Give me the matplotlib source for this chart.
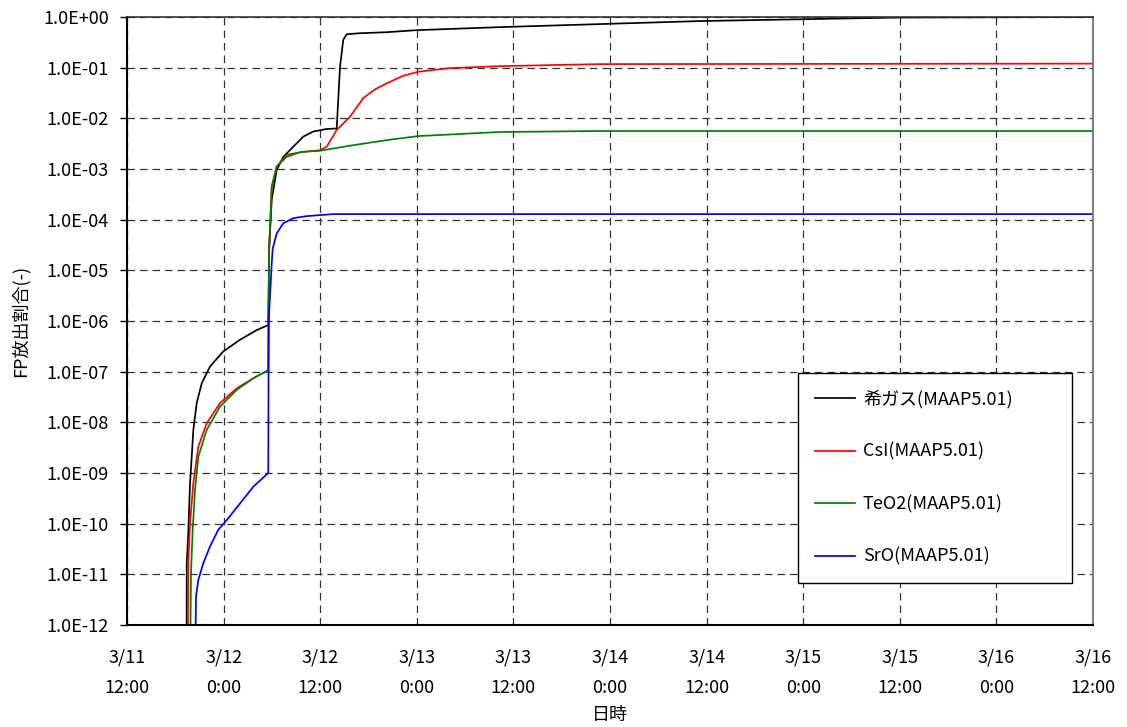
import numpy as np
import matplotlib
matplotlib.use('Agg')
import matplotlib.pyplot as plt

plt.rcParams['font.family'] = ['Noto Sans CJK JP', 'DejaVu Sans']

# hours since 3/11 12:00, log10 of release fraction
gas_h = [7.40, 7.42, 7.61, 7.83, 8.04, 8.24, 8.66, 9.28, 10.31, 11.96, 14.04, 16.11, 17.55,
         17.65, 17.98, 18.6, 19.42, 20.66, 21.9, 23.14, 24.81, 26.05, 26.46, 26.87, 27.29,
         28.94, 32.26, 35.99, 46.3, 71.2, 96.0, 120.0]
gas_v = [-13, -10.78, -10.19, -9.2, -8.68, -8.15, -7.62, -7.23, -6.9, -6.6, -6.37, -6.18, -6.08,
         -4.6, -3.6, -3.02, -2.76, -2.56, -2.36, -2.26, -2.21, -2.2, -0.98, -0.45, -0.34,
         -0.32, -0.3, -0.26, -0.2, -0.08, -0.01, 0.0]

csi_h = [7.54, 7.61, 7.83, 8.24, 8.86, 9.9, 11.55, 13.62, 15.69, 17.55, 17.65, 17.98, 18.6,
         19.84, 21.49, 23.98, 24.81, 26.05, 27.7, 29.35, 30.8, 32.26, 34.32, 36.18, 40.0,
         46.3, 58.7, 120.0]
csi_v = [-13, -10.78, -9.99, -9.2, -8.48, -8.02, -7.62, -7.33, -7.13, -6.97, -4.6, -3.35, -2.95,
         -2.76, -2.67, -2.63, -2.56, -2.23, -1.97, -1.6, -1.43, -1.31, -1.16, -1.08, -1.01,
         -0.97, -0.93, -0.92]

teo2_h = [7.83, 7.95, 8.16, 8.45, 8.86, 9.9, 11.55, 13.63, 15.69, 17.55, 17.65, 17.98, 18.6,
          19.84, 21.9, 23.98, 28.1, 32.26, 36.19, 46.3, 58.7, 120.0]
teo2_v = [-13, -10.98, -10.12, -9.33, -8.68, -8.15, -7.69, -7.36, -7.13, -6.97, -4.6, -3.35, -2.95,
          -2.72, -2.66, -2.64, -2.53, -2.43, -2.35, -2.27, -2.25, -2.25]

sro_h = [8.45, 8.57, 8.86, 9.48, 10.31, 11.34, 12.39, 14.04, 15.69, 17.55, 17.6, 17.98, 18.1,
         18.6, 19.42, 20.66, 22.32, 25.63, 120.0]
sro_v = [-13, -11.44, -11.11, -10.78, -10.45, -10.12, -9.93, -9.6, -9.27, -9.0, -6.0, -4.86, -4.57,
         -4.27, -4.07, -3.97, -3.93, -3.89, -3.89]

series = [
    ('希ガス(MAAP5.01)', gas_h, gas_v, 'black'),
    ('CsI(MAAP5.01)', csi_h, csi_v, 'red'),
    ('TeO2(MAAP5.01)', teo2_h, teo2_v, 'green'),
    ('SrO(MAAP5.01)', sro_h, sro_v, 'blue'),
]

xticks = np.arange(0, 121, 12)
xlabels = ['3/11\n12:00', '3/12\n0:00', '3/12\n12:00', '3/13\n0:00', '3/13\n12:00',
           '3/14\n0:00', '3/14\n12:00', '3/15\n0:00', '3/15\n12:00', '3/16\n0:00', '3/16\n12:00']
yexp = np.arange(-12, 1)

fig = plt.figure(figsize=(11.27, 7.27), dpi=100)
ax = fig.add_axes([127 / 1127, 1 - 625 / 727, 966 / 1127, 608 / 727])

for name, h, v, c in series:
    ax.plot(h, 10.0 ** np.array(v), color=c, lw=1.25, label=name)

ax.set_yscale('log')
ax.set_xlim(0, 120)
ax.set_ylim(1e-12, 1)
ax.set_yticks(10.0 ** yexp)
ax.set_yticklabels(['1.0E{:+03d}'.format(e) for e in yexp])
ax.minorticks_off()
ax.set_xticks(xticks)
ax.set_xticklabels(xlabels, linespacing=1.9)

ax.tick_params(axis='y', direction='out', length=5, width=1, labelsize=13, pad=8)
ax.tick_params(axis='x', length=0, labelsize=13, pad=17)

ax.grid(True, which='major', color='#333333', linestyle=(0, (6, 4)), lw=0.9)

for s in ['left', 'bottom']:
    ax.spines[s].set_linewidth(1.5)
    ax.spines[s].set_color('black')
ax.spines['top'].set_color('#333333')
ax.spines['top'].set_linewidth(1.2)
ax.spines['right'].set_color('#808080')
ax.spines['right'].set_linewidth(1.5)

ax.set_ylabel('FP放出割合(-)', fontsize=13, labelpad=10)
ax.set_xlabel('日時', fontsize=13, labelpad=6)

leg = ax.legend(loc='lower left', bbox_to_anchor=(0.6946, 0.069, 0.2836, 0.347), mode='expand',
                fontsize=13, handlelength=2.2, handletextpad=0.45, labelspacing=1.9,
                borderpad=0.95, borderaxespad=0, fancybox=False, framealpha=1, edgecolor='black')
leg.get_frame().set_linewidth(1.0)

fig.savefig('out.png', dpi=100, facecolor='white')
